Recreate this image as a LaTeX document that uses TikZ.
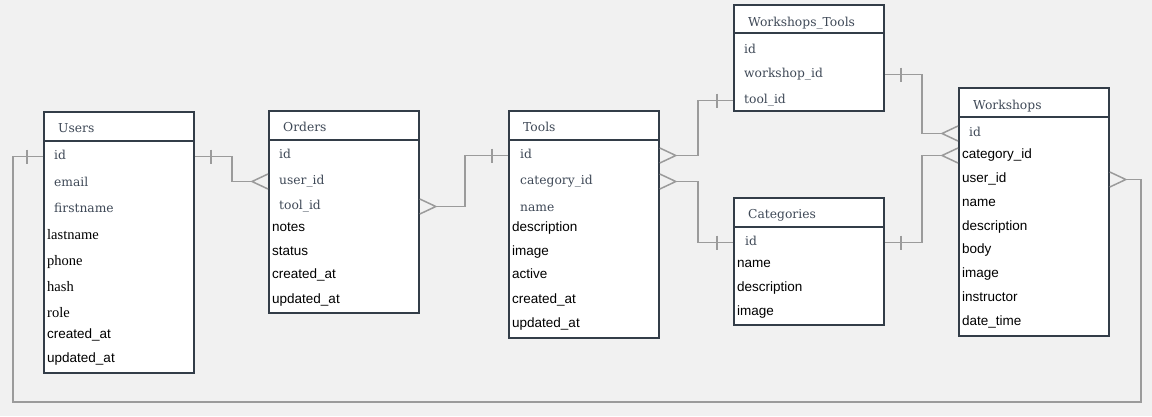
\documentclass[tikz,border=0pt]{standalone}
\usepackage{fontspec}
\setmainfont{DejaVu Serif}
\newfontfamily\sansf{Liberation Sans}
\newfontfamily\serifb{Liberation Serif}
\usetikzlibrary{calc}
\definecolor{bg}{HTML}{F1F1F1}
\definecolor{edgec}{HTML}{333D48}
\definecolor{slate}{HTML}{3F4957}
\definecolor{lgray}{HTML}{9B9B9B}
\tikzset{
  pics/oneE/.style={code={\draw[conn] (16,-7) -- (16,7);}},
  pics/oneW/.style={code={\draw[conn] (-16,-7) -- (-16,7);}},
  pics/manyE/.style={code={\draw[conn] (0,-7.5) -- (16,0) -- (0,7.5);}},
  pics/manyW/.style={code={\draw[conn] (0,-7.5) -- (-16,0) -- (0,7.5);}},
}
\begin{document}
\begin{tikzpicture}[x=1pt,y=-1pt,
  tbl/.style={draw=edgec, line width=1.8pt, fill=white, anchor=north west, inner sep=0pt, minimum width=150pt},
  ttl/.style={anchor=west, inner sep=0pt, yshift=-2.5pt, text=slate, text height=8pt, text depth=2.5pt, font=\fontsize{12.3}{14}\selectfont},
  fa/.style={anchor=west, inner sep=0pt, yshift=-2.5pt, text=slate, text height=8pt, text depth=2.5pt, font=\fontsize{12.3}{14}\selectfont},
  fb/.style={anchor=west, inner sep=0pt, yshift=-2pt, text=black, text height=9pt, text depth=3pt, font=\serifb\fontsize{14.5}{16}\selectfont},
  fc/.style={anchor=west, inner sep=0pt, yshift=-1.5pt, text=black, text height=9.5pt, text depth=3pt, font=\sansf\fontsize{13.5}{15}\selectfont},
  conn/.style={draw=lgray, line width=1.5pt},
  hdr/.style={draw=edgec, line width=1.6pt},
]
\fill[bg] (0,0) rectangle (1152,416);
\useasboundingbox (0,0) rectangle (1152,416);

% Users
\node[tbl, minimum height=261pt] (users) at (43,111) {};
\draw[hdr] ($(users.north west)+(0,30)$) -- ($(users.north east)+(0,30)$);
\node[ttl] (usersT) at (58,127) {Users};
\node[fa] (uid) at (54,154) {id};
\node[fa] (uemail) at (54,181) {email};
\node[fa] (ufirst) at (54,207) {firstname};
\node[fb] (ulast) at (47,234) {lastname};
\node[fb] (uphone) at (47,260) {phone};
\node[fb] (uhash) at (47,286) {hash};
\node[fb] (urole) at (47,312) {role};
\node[fc] (ucreated) at (47,334) {created\_at};
\node[fc] (uupdated) at (47,358) {updated\_at};

% Orders
\node[tbl, minimum height=202pt] (orders) at (268,110) {};
\draw[hdr] ($(orders.north west)+(0,30)$) -- ($(orders.north east)+(0,30)$);
\node[ttl] (ordersT) at (283,126) {Orders};
\node[fa] (oid) at (279,153) {id};
\node[fa] (ouser) at (279,179) {user\_id};
\node[fa] (otool) at (279,204) {tool\_id};
\node[fc] (onotes) at (272,227) {notes};
\node[fc] (ostatus) at (272,251) {status};
\node[fc] (ocreated) at (272,274) {created\_at};
\node[fc] (oupdated) at (272,299) {updated\_at};

% Tools
\node[tbl, minimum height=227pt] (tools) at (508,110) {};
\draw[hdr] ($(tools.north west)+(0,30)$) -- ($(tools.north east)+(0,30)$);
\node[ttl] (toolsT) at (523,126) {Tools};
\node[fa] (tid) at (520,153) {id};
\node[fa] (tcat) at (520,179) {category\_id};
\node[fa] (tname) at (520,206) {name};
\node[fc] (tdesc) at (512,227) {description};
\node[fc] (timage) at (512,251) {image};
\node[fc] (tactive) at (512,274) {active};
\node[fc] (tcreated) at (512,299) {created\_at};
\node[fc] (tupdated) at (512,323) {updated\_at};

% Workshops_Tools
\node[tbl, minimum height=106pt] (wt) at (733,4) {};
\draw[hdr] ($(wt.north west)+(0,29)$) -- ($(wt.north east)+(0,29)$);
\node[ttl] (wtT) at (748,21) {Workshops\_Tools};
\node[fa] (wtid) at (744,48) {id};
\node[fa] (wtws) at (744,72) {workshop\_id};
\node[fa] (wttool) at (744,98) {tool\_id};

% Categories
\node[tbl, minimum height=127pt] (cat) at (733,197) {};
\draw[hdr] ($(cat.north west)+(0,30)$) -- ($(cat.north east)+(0,30)$);
\node[ttl] (catT) at (748,213) {Categories};
\node[fa] (catid) at (745,240) {id};
\node[fc] (catname) at (737,263) {name};
\node[fc] (catdesc) at (737,287) {description};
\node[fc] (catimage) at (737,311) {image};

% Workshops
\node[tbl, minimum height=248pt] (ws) at (958,87) {};
\draw[hdr] ($(ws.north west)+(0,30)$) -- ($(ws.north east)+(0,30)$);
\node[ttl] (wsT) at (973,104) {Workshops};
\node[fa] (wsid) at (969,131) {id};
\node[fc] (wscat) at (962,154) {category\_id};
\node[fc] (wsuser) at (962,178) {user\_id};
\node[fc] (wsname) at (962,202) {name};
\node[fc] (wsdesc) at (962,226) {description};
\node[fc] (wsbody) at (962,249) {body};
\node[fc] (wsimage) at (962,273) {image};
\node[fc] (wsinstr) at (962,297) {instructor};
\node[fc] (wsdate) at (962,321) {date\_time};

% Connectors
% Users.id -> Orders.user_id
\draw[conn] (users.east |- uid) -- ++(37,0) |- ($(orders.west |- ouser)+(-16,0)$);
\pic at (users.east |- uid) {oneE};
\pic at (orders.west |- ouser) {manyW};
% Orders.tool_id -> Tools.id
\draw[conn] ($(orders.east |- otool)+(16,0)$) -- ++(29,0) |- (tools.west |- tid);
\pic at (orders.east |- otool) {manyE};
\pic at (tools.west |- tid) {oneW};
% Tools.id -> Workshops_Tools.tool_id
\draw[conn] ($(tools.east |- tid)+(16,0)$) -- ++(22,0) |- (wt.west |- wttool);
\pic at (tools.east |- tid) {manyE};
\pic at (wt.west |- wttool) {oneW};
% Tools.category_id -> Categories.id
\draw[conn] ($(tools.east |- tcat)+(16,0)$) -- ++(22,0) |- (cat.west |- catid);
\pic at (tools.east |- tcat) {manyE};
\pic at (cat.west |- catid) {oneW};
% Workshops_Tools.workshop_id -> Workshops.id
\draw[conn] (wt.east |- wtws) -- ++(37,0) |- ($(ws.west |- wsid)+(-16,0)$);
\pic at (wt.east |- wtws) {oneE};
\pic at (ws.west |- wsid) {manyW};
% Categories.id -> Workshops.category_id
\draw[conn] (cat.east |- catid) -- ++(37,0) |- ($(ws.west |- wscat)+(-16,0)$);
\pic at (cat.east |- catid) {oneE};
\pic at (ws.west |- wscat) {manyW};
% Users.id -> Workshops.user_id (loop)
\coordinate (loopbl) at (13,402);
\draw[conn] (users.west |- uid) -| (loopbl) -| ($(ws.east |- wsuser)+(31,0)$) -- ($(ws.east |- wsuser)+(16,0)$);
\pic at (users.west |- uid) {oneW};
\pic at (ws.east |- wsuser) {manyE};
\end{tikzpicture}
\end{document}
